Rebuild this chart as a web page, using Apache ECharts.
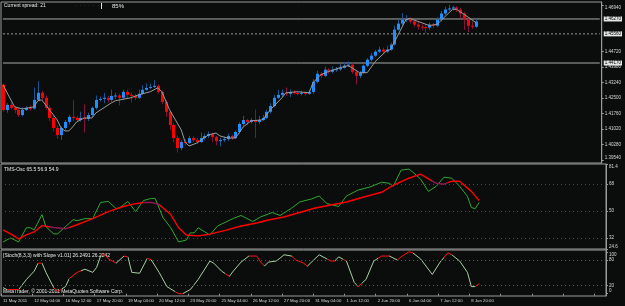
<!DOCTYPE html>
<html><head><meta charset="utf-8">
<script src="https://cdn.jsdelivr.net/npm/echarts@6/dist/echarts.min.js"></script>
<style>html,body{margin:0;padding:0;background:#0b0d0d}#c{width:625px;height:306px}</style>
</head><body><div id="c"></div>
<script>
const tickLabels = ['11 May 2011','12 May 04:00','16 May 12:00','17 May 20:00','19 May 04:00','20 May 12:00','23 May 20:00','25 May 04:00','26 May 12:00','27 May 20:00','31 May 04:00','1 Jun 12:00','2 Jun 20:00','6 Jun 04:00','7 Jun 12:00','8 Jun 20:00'];

const opens = [1.4313,1.4193,1.4217,1.4203,1.4193,1.4169,1.4193,1.4203,1.4200,1.4241,1.4275,1.4251,1.4203,1.4155,1.4107,1.4073,1.4107,1.4136,1.4160,1.4155,1.4145,1.4155,1.4150,1.4169,1.4203,
1.4241,1.4246,1.4251,1.4241,1.4260,1.4262,1.4251,1.4279,1.4265,1.4260,1.4251,1.4270,1.4289,1.4298,1.4303,1.4308,1.4279,1.4231,1.4184,1.4121,1.4059,1.4011,1.4040,1.4035,1.4059,
1.4049,1.4040,1.4059,1.4069,1.4078,1.4064,1.4045,1.4049,1.4054,1.4069,1.4059,1.4088,1.4126,1.4145,1.4136,1.4145,1.4136,1.4145,1.4155,1.4184,1.4212,1.4251,1.4265,1.4275,1.4270,
1.4279,1.4274,1.4270,1.4275,1.4270,1.4279,1.4327,1.4366,1.4356,1.4385,1.4375,1.4385,1.4387,1.4394,1.4404,1.4409,1.4375,1.4356,1.4370,1.4404,1.4433,1.4452,1.4471,1.4481,1.4471,
1.4481,1.4505,1.4576,1.4605,1.4624,1.4626,1.4615,1.4600,1.4591,1.4588,1.4586,1.4600,1.4595,1.4624,1.4653,1.4672,1.4677,1.4682,1.4672,1.4653,1.4624,1.4595,1.4590];
const closes = [1.4193,1.4217,1.4203,1.4193,1.4169,1.4193,1.4203,1.4200,1.4241,1.4275,1.4251,1.4203,1.4155,1.4107,1.4073,1.4107,1.4136,1.4160,1.4155,1.4145,1.4155,1.4150,1.4169,1.4203,1.4241,
1.4246,1.4251,1.4241,1.4260,1.4262,1.4251,1.4279,1.4265,1.4260,1.4251,1.4270,1.4289,1.4298,1.4303,1.4308,1.4279,1.4231,1.4184,1.4121,1.4059,1.4011,1.4040,1.4035,1.4059,1.4049,
1.4040,1.4059,1.4069,1.4078,1.4064,1.4045,1.4049,1.4054,1.4069,1.4059,1.4088,1.4126,1.4145,1.4136,1.4145,1.4136,1.4145,1.4155,1.4184,1.4212,1.4251,1.4265,1.4275,1.4270,1.4279,
1.4274,1.4270,1.4275,1.4270,1.4279,1.4327,1.4366,1.4356,1.4385,1.4375,1.4385,1.4387,1.4394,1.4404,1.4409,1.4375,1.4356,1.4370,1.4404,1.4433,1.4452,1.4471,1.4481,1.4471,1.4481,
1.4505,1.4576,1.4605,1.4624,1.4626,1.4615,1.4600,1.4591,1.4588,1.4586,1.4600,1.4595,1.4624,1.4653,1.4672,1.4677,1.4682,1.4672,1.4653,1.4624,1.4595,1.4590,1.4615];
const lows = [1.4185,1.4180,1.4195,1.4178,1.4160,1.4162,1.4188,1.4190,1.4195,1.4235,1.4240,1.4195,1.4140,1.4090,1.4055,1.4050,1.4098,1.4125,1.4140,1.4135,1.4138,1.4085,1.4140,1.4160,1.4195,
1.4233,1.4225,1.4230,1.4230,1.4245,1.4215,1.4245,1.4250,1.4230,1.4240,1.4245,1.4265,1.4285,1.4292,1.4298,1.4270,1.4220,1.4160,1.4100,1.4040,1.3990,1.4000,1.4022,1.4030,1.4040,
1.4030,1.4035,1.4050,1.4060,1.4040,1.4025,1.4020,1.4040,1.4045,1.4050,1.4055,1.4080,1.4115,1.4120,1.4128,1.4060,1.4125,1.4140,1.4150,1.4175,1.4205,1.4245,1.4255,1.4260,1.4255,
1.4266,1.4262,1.4262,1.4260,1.4265,1.4270,1.4320,1.4345,1.4350,1.4365,1.4368,1.4375,1.4380,1.4390,1.4398,1.4365,1.4315,1.4345,1.4365,1.4398,1.4425,1.4445,1.4465,1.4460,1.4465,
1.4475,1.4500,1.4570,1.4595,1.4612,1.4605,1.4590,1.4575,1.4572,1.4560,1.4575,1.4585,1.4588,1.4615,1.4645,1.4665,1.4668,1.4660,1.4630,1.4575,1.4565,1.4580,1.4585];
const highs = [1.4318,1.4225,1.4230,1.4212,1.4200,1.4205,1.4210,1.4215,1.4300,1.4330,1.4285,1.4262,1.4215,1.4165,1.4120,1.4115,1.4145,1.4170,1.4240,1.4165,1.4185,1.4220,1.4180,1.4210,1.4262,
1.4258,1.4275,1.4260,1.4290,1.4275,1.4270,1.4290,1.4290,1.4275,1.4270,1.4290,1.4310,1.4320,1.4318,1.4335,1.4315,1.4285,1.4240,1.4190,1.4130,1.4070,1.4050,1.4055,1.4070,1.4068,
1.4060,1.4085,1.4080,1.4090,1.4085,1.4070,1.4060,1.4065,1.4080,1.4075,1.4095,1.4135,1.4165,1.4150,1.4155,1.4195,1.4165,1.4170,1.4195,1.4225,1.4265,1.4290,1.4290,1.4300,1.4290,
1.4288,1.4285,1.4285,1.4282,1.4290,1.4340,1.4380,1.4375,1.4400,1.4392,1.4400,1.4398,1.4412,1.4420,1.4425,1.4415,1.4380,1.4380,1.4410,1.4440,1.4465,1.4480,1.4495,1.4490,1.4500,
1.4515,1.4595,1.4625,1.4655,1.4645,1.4635,1.4622,1.4610,1.4602,1.4600,1.4610,1.4608,1.4635,1.4665,1.4685,1.4694,1.4690,1.4688,1.4680,1.4660,1.4630,1.4615,1.4625];

const maLine = [[0,1.4313],[3,1.4208],[5,1.4198],[8,1.4208],[9,1.4237],[10,1.4241],[12,1.4194],[14,1.4146],[15,1.4107],[16,1.4093],[17,1.4093],[18,1.4112],[19,1.4136],[21,1.4155],[23,1.4155],[24,1.4179],[28,1.4227],[29,1.4237],[33,1.4251],[35,1.4265],[38,1.4280],[40,1.4299],[41,1.4280],[43,1.4194],[46,1.4098],[47,1.4040],[48,1.4021],[50,1.4035],[53,1.4074],[55,1.4083],[56,1.4069],[58,1.4059],[60,1.4059],[62,1.4112],[64,1.4141],[67,1.4146],[69,1.4194],[72,1.4251],[73,1.4275],[76,1.4280],[79,1.4275],[80,1.4323],[82,1.4361],[84,1.4376],[87,1.4395],[89,1.4404],[90,1.4395],[92,1.4371],[94,1.4371],[96,1.4423],[99,1.4476],[100,1.4481],[104,1.4625],[105,1.4629],[110,1.4596],[112,1.4601],[116,1.4673],[117,1.4673],[119,1.4649],[122,1.4610]];
const priceTicks = [1.3954,1.4028,1.4102,1.4176,1.4250,1.4324,1.4398,1.4472,1.4694];
const levelLines = [1.4627,1.4556,1.4417];

const tmsGreen = [[0,29.3],[2,32],[4,29.3],[6,38.8],[7,38.8],[8,37.4],[10,47.6],[11,39.5],[13,34.7],[14,34.7],[16,39.5],[18,44.2],[19,43.5],[21,44.9],[23,44.9],[25,55.7],[27,56.4],[29,51.6],[30,52.3],[32,56.4],[34,49.6],[36,57],[38,58.4],[39,58.4],[41,45.6],[43,38.8],[45,29.3],[47,30.6],[48,35.4],[49,35.4],[50,38.8],[53,34],[55,40],[59,45],[61,47],[64,43],[66,46],[69,49],[71,47],[74,52],[76,56],[79,58],[81,60],[83,55],[86,53],[88,60],[91,64],[94,66],[97,69.2],[99,68.5],[100,66.5],[102,77.3],[104,78],[105,76],[107,71.3],[109,63.1],[111,66.5],[113,72.6],[115,71.9],[117,66.5],[119,59.8],[120,52.3],[121,51.6],[122,55.7]];
const tmsRed = [[0,37.4],[2,34.7],[4,31.4],[6,34],[8,36],[10,40.2],[13,39],[16,38.1],[19,40.8],[23,44.9],[27,49.6],[30,52.3],[33,54.4],[36,55.7],[38,55.7],[40,54.4],[43,47.6],[45,38.8],[47,34],[50,33.4],[53,34.5],[57,37],[61,40],[65,42],[68,44],[72,46],[76,49],[80,52],[84,54],[88,56],[92,59],[97,62.5],[100,67.2],[104,71.9],[107,74.6],[111,68.5],[113,67.9],[115,69.9],[117,69.9],[120,63.1],[122,57]];
const tmsTicks = [24.6,32,50,68,81.4];
const tmsLevels = [32,50,68];
const tmsDarkRanges = [[12,17],[36,40],[110,114]];

const stoch = [[0,14.6],[1,10],[4,10],[6,34],[8,54],[9,73],[10,73],[11,51],[13,14.6],[14,5],[16,17],[17,36.6],[19,51],[21,58.5],[23,51],[24,63],[25,90],[26,95],[27,83],[29,73],[31,90],[32,88],[33,51],[35,49],[37,85],[38,80.5],[40,51],[42,17],[45,0],[46,0],[48,10],[50,34],[53,78],[54,73],[56,54],[58,41.5],[59,54],[61,75.6],[63,90],[65,90],[66,75.6],[67,66],[68,75.6],[70,78],[71,85],[72,93],[74,90],[75,80.5],[77,73],[78,66],[81,93],[84,78],[85,78],[86,88],[88,78],[90,27],[91,17],[93,34],[95,78],[97,90],[99,90],[101,80.5],[102,88],[104,100],[105,97.6],[107,83],[110,46],[112,75.6],[114,97.6],[115,93],[117,78],[119,51],[120,17],[121,17],[122,24]];
const stochTicks = [0,20,80,100];
const stochLevels = [20,80];
const stochRedRanges = [[1,4],[9,10],[13,15],[17,20],[25,29],[31,32],[37,38],[44,46],[57,58],[63,67],[74,78],[83,85],[87,88],[91,92],[96,99],[101,105],[113,115],[121,122]];

const NCAT = 155;
const cats = Array.from({length: NCAT}, (_, i) => String(i));
const candleData = opens.map((o, i) => [i, o, closes[i], lows[i], highs[i]]);

const FONT = 'Liberation Sans';
const txt = '#d8d8d8';
const border = '#9a9a9a';
const PMIN = 1.3940, PMAX = 1.4708;

const chart = echarts.init(document.getElementById('c'), null, {renderer: 'canvas'});

function xAx(gi, showLabels) {
  return {
    type: 'category', gridIndex: gi, data: cats, boundaryGap: true,
    axisLine: {show: false},
    axisTick: showLabels ? {show: true, interval: 7, length: 2, lineStyle: {color: border}} : {show: false},
    axisLabel: showLabels ? {
      show: true, interval: 7, color: txt, fontSize: 4.3, fontFamily: FONT, margin: 3, align: 'left',
      formatter: (v, idx) => tickLabels[idx / 8] || ''
    } : {show: false},
    splitLine: {show: false}
  };
}
function yAx(gi, min, max, ticks, fmt) {
  return {
    type: 'value', gridIndex: gi, position: 'right', min: min, max: max, scale: true,
    axisLine: {show: true, lineStyle: {color: border}},
    axisTick: {show: true, length: 2, customValues: ticks, lineStyle: {color: border}},
    axisLabel: {show: true, customValues: ticks, color: txt, fontSize: 4.5, fontFamily: FONT, margin: 3, formatter: fmt,
                verticalAlignMinLabel: 'bottom', verticalAlignMaxLabel: 'top'},
    splitLine: {show: false}
  };
}

const levelSeries = levelLines.map((v, k) => ({
  type: 'line', xAxisIndex: 0, yAxisIndex: 0, silent: true, showSymbol: false,
  data: [[0, v], [NCAT - 1, v]],
  lineStyle: {color: k === 1 ? '#9c9c9c' : '#a8a8a8', width: 1, type: k === 1 ? [2, 2] : 'solid'},
  z: 1
}));

const option = {
  backgroundColor: '#0b0d0d',
  animation: false,
  grid: [
    {left: 1, right: 19, top: 2, height: 161, show: true, borderColor: border, borderWidth: 1, backgroundColor: 'transparent'},
    {left: 1, right: 19, top: 164, height: 85, show: true, borderColor: border, borderWidth: 1, backgroundColor: 'transparent'},
    {left: 1, right: 19, top: 250, height: 46, show: true, borderColor: border, borderWidth: 1, backgroundColor: 'transparent'}
  ],
  xAxis: [xAx(0, false), xAx(1, false), xAx(2, true)],
  yAxis: [
    yAx(0, PMIN, PMAX, priceTicks, v => v.toFixed(5)),
    yAx(1, 24.6, 81.4, tmsTicks, v => String(v)),
    yAx(2, -5.4, 104.4, stochTicks, v => String(v)),
    {
      type: 'value', gridIndex: 0, position: 'right', min: PMIN, max: PMAX, scale: true,
      axisLine: {show: false}, axisTick: {show: false}, splitLine: {show: false},
      axisLabel: {show: true, customValues: levelLines, color: '#000', backgroundColor: '#e6e6e6',
                  padding: [0, 1], fontSize: 4.5, fontFamily: FONT, margin: 2, formatter: v => v.toFixed(5)}
    }
  ],
  visualMap: [
    {type: 'piecewise', show: false, dimension: 0, seriesIndex: 4,
     pieces: stochRedRanges.map(r => ({gte: r[0], lte: r[1], color: '#ff1010'})),
     outOfRange: {color: '#a4cfa0'}},
    {type: 'piecewise', show: false, dimension: 0, seriesIndex: 3,
     pieces: tmsDarkRanges.map(r => ({gte: r[0], lte: r[1], color: '#8c1850'})),
     outOfRange: {color: '#ff0000'}}
  ],
  series: [
    {
      type: 'custom', xAxisIndex: 0, yAxisIndex: 0, data: candleData, silent: true, z: 3,
      encode: {x: 0, y: [1, 2, 3, 4]},
      renderItem: function (params, api) {
        const i = api.value(0), o = api.value(1), c = api.value(2), l = api.value(3), h = api.value(4);
        const pO = api.coord([i, o]), pC = api.coord([i, c]), pL = api.coord([i, l]), pH = api.coord([i, h]);
        const up = c >= o;
        const x = Math.round(pO[0]);
        const top = Math.min(pO[1], pC[1]);
        const hgt = Math.max(1, Math.abs(pO[1] - pC[1]));
        return {type: 'group', children: [
          {type: 'line', shape: {x1: x + 0.5, y1: pH[1], x2: x + 0.5, y2: pL[1]},
           style: {stroke: up ? '#1a5590' : '#85103c', lineWidth: 1}},
          {type: 'rect', shape: {x: x - 1, y: top, width: 3, height: hgt},
           style: {fill: up ? '#1e8fff' : '#ff0000'}}
        ]};
      }
    },
    {
      type: 'line', xAxisIndex: 0, yAxisIndex: 0, data: maLine, showSymbol: false, silent: true, z: 4,
      lineStyle: {color: '#9a9a9a', width: 1}
    },
    {
      type: 'line', xAxisIndex: 1, yAxisIndex: 1, data: tmsGreen, showSymbol: false, silent: true,
      lineStyle: {color: '#2fa62f', width: 1}
    },
    {
      type: 'line', xAxisIndex: 1, yAxisIndex: 1, data: tmsRed, showSymbol: false, silent: true,
      lineStyle: {width: 1.4},
      markLine: {
        silent: true, symbol: 'none', animation: false, label: {show: false},
        data: tmsLevels.map(v => ({yAxis: v})),
        lineStyle: {color: '#4a4a4a', width: 1, type: [1, 3]}
      }
    },
    {
      type: 'line', xAxisIndex: 2, yAxisIndex: 2, data: stoch, showSymbol: false, silent: true,
      lineStyle: {width: 1},
      markLine: {
        silent: true, symbol: 'none', animation: false, label: {show: false},
        data: stochLevels.map(v => ({yAxis: v})),
        lineStyle: {color: '#3a5f9a', width: 1, type: [1, 3]}
      }
    }
  ].concat(levelSeries),
  graphic: [
    {type: 'text', left: 4, top: 3, style: {text: 'Current spread: 21', fill: '#e8e8e8', font: '5px "Liberation Sans"'}},
    {type: 'text', left: 75, top: 3, style: {text: '·  ·  ·  ·  ·  ·  ·  ·', fill: '#6a6a6a', font: '5px "Liberation Sans"'}},
    {type: 'rect', shape: {x: 101, y: 3, width: 1, height: 6}, style: {fill: '#e0e0e0'}},
    {type: 'text', left: 112, top: 3, style: {text: '85%', fill: '#e8e8e8', font: '6px "Liberation Sans"'}},
    {type: 'text', left: 4, top: 167, style: {text: 'TMS-Osc 65.5 56.9 54.9', fill: '#e8e8e8', font: '5px "Liberation Sans"'}},
    {type: 'text', left: 3, top: 253, style: {text: '[Stoch(8,3,3) with Slope v1.01] 26.2491 26.2242', fill: '#e8e8e8', font: '5px "Liberation Sans"'}},
    {type: 'text', left: 3, top: 289, style: {text: 'MetaTrader, © 2001-2011 MetaQuotes Software Corp.', fill: '#e8e8e8', font: '5px "Liberation Sans"'}}
  ]
};
chart.setOption(option);
</script></body></html>
